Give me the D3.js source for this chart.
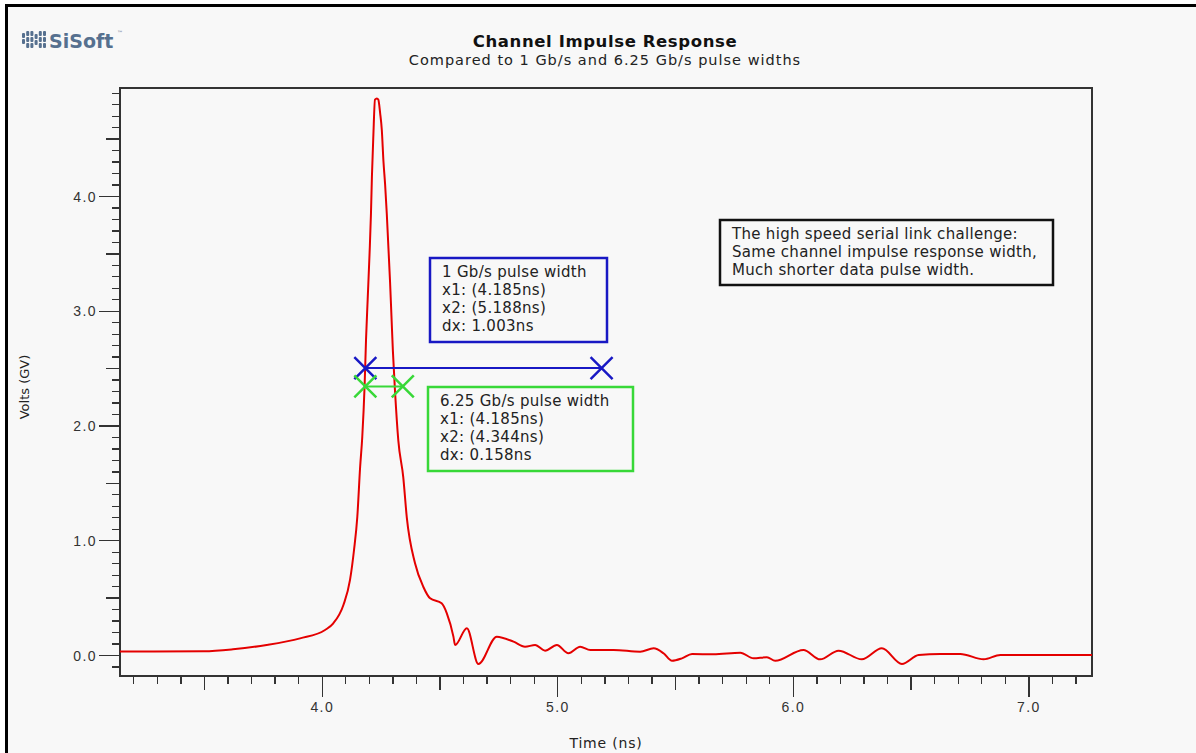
<!DOCTYPE html>
<html>
<head>
<meta charset="utf-8">
<script src="https://cdn.jsdelivr.net/npm/d3@7"></script>
<style>
  html, body { margin: 0; padding: 0; background: #fff; }
  svg { display: block; font-family: "DejaVu Sans", sans-serif; }
  .axis path, .axis line { stroke: #333; stroke-width: 1.3; shape-rendering: crispEdges; }
  .note text { font-size: 15px; fill: #222; letter-spacing: 0.3px; }
</style>
</head>
<body>
<div id="chart"></div>
<script>
// Channel impulse response
var timeNs = [
  3.143, 3.5, 3.623, 3.766, 3.908, 4.014, 4.049, 4.092, 4.12, 4.137, 4.151,
  4.163, 4.172, 4.182, 4.188, 4.195, 4.203, 4.209, 4.213, 4.219, 4.226, 4.234,
  4.24, 4.248, 4.255, 4.262, 4.269, 4.276, 4.283, 4.29, 4.296, 4.302, 4.311,
  4.325, 4.346, 4.361, 4.396, 4.431, 4.46, 4.509, 4.531, 4.559, 4.566, 4.616,
  4.665, 4.743, 4.814, 4.863, 4.906, 4.948, 4.998, 5.047, 5.097, 5.14, 5.239,
  5.352, 5.409, 5.451, 5.487, 5.529, 5.572, 5.663, 5.777, 5.833, 5.89, 5.925,
  6.045, 6.116, 6.194, 6.293, 6.378, 6.463, 6.534, 6.626, 6.711, 6.81, 6.881,
  7.27
];
var volts = [
  0.03, 0.033, 0.05, 0.087, 0.145, 0.218, 0.276, 0.436, 0.654, 0.915, 1.205,
  1.64, 1.9, 2.35, 2.75, 3.1, 3.5, 3.85, 4.17, 4.52, 4.84, 4.85,
  4.84, 4.72, 4.575, 4.3, 4.1, 3.85, 3.55, 3.25, 2.95, 2.65, 2.3,
  1.87, 1.55, 1.2, 0.8, 0.595, 0.494, 0.45, 0.363, 0.16, 0.087, 0.233,
  -0.078, 0.16, 0.116, 0.072, 0.087, 0.038, 0.087, 0.015, 0.072, 0.044, 0.044,
  0.029, 0.058, 0.015, -0.05, -0.029, 0.009, 0.006, 0.02, -0.029, -0.02, -0.05,
  0.044, -0.038, 0.038, -0.038, 0.058, -0.078, 0.0, 0.009, 0.009, -0.038, 0.0,
  0.0
];

// Pulse width markers
var slowPulseX = [4.185, 5.188];
var slowPulseLevel = 2.5;
var fastPulseX = [4.185, 4.344];
var fastPulseLevel = 2.34;

// Axes
var xDomain = [3.1435, 7.27];
var yDomain = [-0.183, 4.941];
var xMajorTicks = [4.0, 5.0, 6.0, 7.0];
var yMajorTicks = [0.0, 1.0, 2.0, 3.0, 4.0];

// Texts
var titleText = "Channel Impulse Response";
var subtitleText = "Compared to 1 Gb/s and 6.25 Gb/s pulse widths";
var xLabel = "Time (ns)";
var yLabel = "Volts (GV)";
var slowNote = ["1 Gb/s pulse width", "x1: (4.185ns)", "x2: (5.188ns)", "dx: 1.003ns"];
var fastNote = ["6.25 Gb/s pulse width", "x1: (4.185ns)", "x2: (4.344ns)", "dx: 0.158ns"];
var challengeNote = [
  "The high speed serial link challenge:",
  "Same channel impulse response width,",
  "Much shorter data pulse width."
];

var COLORS = {
  bg: "#f8f8f8",
  curve: "#e40000",
  slow: "#1818c4",
  fast: "#38d838",
  logo: "#56708f"
};

var render = function() {
  var width = 1196;
  var height = 753;
  var margins = { top: 88, right: 104, bottom: 77, left: 120 };
  var chartWidth = width - margins.left - margins.right;
  var chartHeight = height - margins.top - margins.bottom;

  var svg = d3
    .select("#chart")
    .append("svg")
    .attr("width", width)
    .attr("height", height);

  // Page background and the heavy frame
  svg.append("rect").attr("width", width).attr("height", height).attr("fill", "#fff");
  svg
    .append("rect")
    .attr("x", 6.5)
    .attr("y", 5.5)
    .attr("width", width)
    .attr("height", height)
    .attr("fill", COLORS.bg)
    .attr("stroke", "#000")
    .attr("stroke-width", 3);

  // Logo
  var logo = svg.append("g").attr("transform", "translate(22,31)");
  var cols = [[2, 8], [0, 6, 12], [0, 6, 12], [3, 9], [0, 6, 12], [0, 6, 12]];
  cols.forEach(function(segs, i) {
    segs.forEach(function(s) {
      logo
        .append("rect")
        .attr("x", i * 4.2)
        .attr("y", s)
        .attr("width", 3)
        .attr("height", 5)
        .attr("rx", 1)
        .attr("fill", COLORS.logo);
    });
  });
  svg
    .append("text")
    .attr("x", 49)
    .attr("y", 48)
    .attr("font-size", 19)
    .attr("font-weight", "bold")
    .attr("fill", COLORS.logo)
    .text("SiSoft");
  svg
    .append("text")
    .attr("x", 117)
    .attr("y", 35)
    .attr("font-size", 6)
    .attr("fill", COLORS.logo)
    .text("\u2122");

  // Titles
  svg
    .append("text")
    .attr("x", 605)
    .attr("y", 47)
    .attr("text-anchor", "middle")
    .attr("font-size", 16.5)
    .attr("font-weight", "bold")
    .attr("letter-spacing", 0.6)
    .attr("fill", "#111")
    .text(titleText);
  svg
    .append("text")
    .attr("x", 605)
    .attr("y", 65)
    .attr("text-anchor", "middle")
    .attr("font-size", 14.5)
    .attr("letter-spacing", 1)
    .attr("fill", "#222")
    .text(subtitleText);

  var chart = svg
    .append("g")
    .attr("transform", "translate(" + margins.left + "," + margins.top + ")");

  var xScale = d3.scaleLinear().domain(xDomain).range([0, chartWidth]);
  var yScale = d3.scaleLinear().domain(yDomain).range([chartHeight, 0]);

  // Tick sets: minor every 0.1, medium at halves, labelled at integers
  var xMinor = d3.range(32, 73).map(d => d / 10);
  var yMinor = d3.range(-1, 50).map(d => d / 10);
  var tickLen = function(v) {
    var r = Math.round(v * 10);
    if (r % 10 === 0) return 21;
    if (r % 5 === 0) return 14;
    return 8;
  };

  var xAxis = chart
    .append("g")
    .attr("class", "x axis")
    .attr("transform", "translate(0," + chartHeight + ")")
    .call(
      d3
        .axisBottom(xScale)
        .tickValues(xMinor)
        .tickSizeOuter(0)
        .tickFormat(d => (xMajorTicks.indexOf(d) > -1 ? d3.format(".1f")(d) : ""))
    );
  xAxis.selectAll(".tick line").attr("y2", d => tickLen(d));
  xAxis
    .selectAll(".tick text")
    .attr("y", 26)
    .style("font-size", "14px")
    .style("letter-spacing", "1.4px")
    .attr("fill", "#333");

  var yAxis = chart
    .append("g")
    .attr("class", "y axis")
    .call(
      d3
        .axisLeft(yScale)
        .tickValues(yMinor)
        .tickSizeOuter(0)
        .tickFormat(d => (yMajorTicks.indexOf(d) > -1 ? d3.format(".1f")(d) : ""))
    );
  yAxis.selectAll(".tick line").attr("x2", d => -tickLen(d));
  yAxis
    .selectAll(".tick text")
    .attr("x", -23)
    .attr("dy", "0.36em")
    .style("font-size", "14px")
    .style("letter-spacing", "1.4px")
    .attr("fill", "#333");

  // Plot frame
  chart
    .append("rect")
    .attr("width", chartWidth)
    .attr("height", chartHeight)
    .attr("fill", "none")
    .attr("stroke", "#333")
    .attr("stroke-width", 1.3)
    .attr("shape-rendering", "crispEdges");

  // Axis titles
  svg
    .append("text")
    .attr("x", 606)
    .attr("y", 748)
    .attr("text-anchor", "middle")
    .attr("font-size", 14)
    .attr("letter-spacing", 0.8)
    .attr("fill", "#222")
    .text(xLabel);
  svg
    .append("text")
    .attr("transform", "translate(29,387) rotate(-90)")
    .attr("text-anchor", "middle")
    .attr("font-size", 13)
    .attr("fill", "#222")
    .text(yLabel);

  // Impulse response curve
  var line = d3
    .line()
    .x(d => xScale(d[0]))
    .y(d => yScale(d[1]))
    .curve(d3.curveMonotoneX);

  chart
    .append("path")
    .datum(d3.zip(timeNs, volts))
    .attr("d", line)
    .attr("fill", "none")
    .attr("stroke", COLORS.curve)
    .attr("stroke-width", 2)
    .attr("stroke-linejoin", "round");

  // Pulse width markers: horizontal span with an X at each end
  var drawSpan = function(xs, level, color) {
    var y = yScale(level);
    chart
      .append("line")
      .attr("x1", xScale(xs[0]))
      .attr("x2", xScale(xs[1]))
      .attr("y1", y)
      .attr("y2", y)
      .attr("stroke", color)
      .attr("stroke-width", 2);
    xs.forEach(function(t) {
      var cx = xScale(t);
      var s = 11;
      chart
        .append("path")
        .attr("d", "M" + (cx - s) + "," + (y - s) + "L" + (cx + s) + "," + (y + s) +
          "M" + (cx - s) + "," + (y + s) + "L" + (cx + s) + "," + (y - s))
        .attr("stroke", color)
        .attr("stroke-width", 2.5)
        .attr("fill", "none");
    });
  };
  drawSpan(slowPulseX, slowPulseLevel, COLORS.slow);
  drawSpan(fastPulseX, fastPulseLevel, COLORS.fast);

  // Annotation boxes
  var drawNote = function(lines, x, y, w, h, color) {
    var g = svg.append("g").attr("class", "note");
    g.append("rect")
      .attr("x", x)
      .attr("y", y)
      .attr("width", w)
      .attr("height", h)
      .attr("fill", COLORS.bg)
      .attr("stroke", color)
      .attr("stroke-width", 2.5);
    g.selectAll("text")
      .data(lines)
      .enter()
      .append("text")
      .attr("x", x + 12)
      .attr("y", (d, i) => y + 19 + i * 18)
      .text(d => d);
  };
  drawNote(slowNote, 430, 258, 177, 84, COLORS.slow);
  drawNote(fastNote, 428, 387, 205, 84, COLORS.fast);
  drawNote(challengeNote, 720, 220, 333, 65, "#111");
};

window.onload = render;
</script>
</body>
</html>
